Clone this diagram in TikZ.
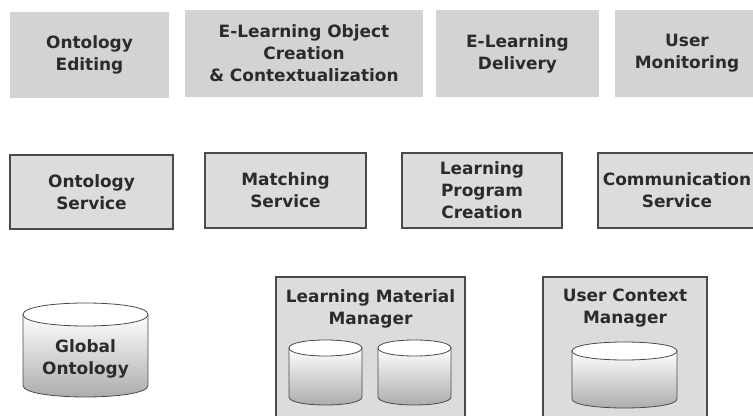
\documentclass[tikz,border=0pt]{standalone}
\usepackage{fontspec}
\setmainfont{DejaVu Sans}

\definecolor{topgray}{HTML}{D3D3D3}
\definecolor{boxgray}{HTML}{DCDCDC}
\definecolor{linegray}{HTML}{4A4A4A}
\definecolor{textgray}{HTML}{2B2B2B}
\definecolor{cylgray}{HTML}{A8A8A8}

\tikzset{
 lbl/.style={align=center, text=textgray, inner sep=0pt, font=\fontsize{12.7}{16.5}\selectfont\bfseries},
 topbox/.style={lbl, fill=topgray},
 svcbox/.style={lbl, fill=boxgray, draw=linegray, line width=0.9pt},
 mgrbox/.style={fill=boxgray, draw=linegray, line width=0.8pt, inner sep=0pt},
}

% 円柱 {左}{上}{右}{下}{楕円の縦半径}
\newcommand{\dbcyl}[5]{%
 \shade[top color=white, bottom color=cylgray, draw=linegray, line width=0.6pt]
  (#1,#2+#5) -- (#1,#4-#5) .. controls (#1,#4+#5/3) and (#3,#4+#5/3) .. (#3,#4-#5) -- (#3,#2+#5) -- cycle;
 \draw[fill=white, draw=linegray, line width=0.6pt]
  (#1,#2+#5) .. controls (#1,#2-#5/3) and (#3,#2-#5/3) .. (#3,#2+#5)
  .. controls (#3,#2+#5*7/3) and (#1,#2+#5*7/3) .. (#1,#2+#5) -- cycle;
}

\begin{document}
\begin{tikzpicture}[x=0.75pt, y=-0.75pt]
 \useasboundingbox (0,0) rectangle (753,416);

 % 上段
 \node[topbox, minimum width=119.25pt, minimum height=64.5pt] (onted) at (89.5,55) {Ontology\\Editing};
 \node[topbox, minimum width=178.5pt, minimum height=65.25pt] (elo) at (304,53.5) {E-Learning Object\\Creation\\\& Contextualization};
 \node[topbox, minimum width=122.25pt, minimum height=65.25pt] (eld) at (517.5,53.5) {E-Learning\\Delivery};
 \node[topbox, minimum width=108pt, minimum height=65.25pt] (usm) at (687,53.5) {User\\Monitoring};

 % 中段
 \node[svcbox, minimum width=122.25pt, minimum height=55.5pt] (ontsv) at (91.5,192) {Ontology\\Service};
 \node[svcbox, minimum width=120.75pt, minimum height=56.25pt] (match) at (285.5,190.5) {Matching\\Service};
 \node[svcbox, minimum width=120pt, minimum height=56.25pt] (lpc) at (482,190.5) {Learning\\Program\\Creation};
 \node[svcbox, minimum width=118.5pt, minimum height=56.25pt] (comm) at (677,190.5) {Communication\\Service};

 % 下段
 \dbcyl{23}{303}{148}{397}{11.5} % Global Ontology
 \node[lbl] (glob) at (85.5,359) {Global\\Ontology};

 \node[mgrbox, minimum width=141.75pt, minimum height=114.75pt] (lmm) at (370.5,353.5) {};
 \node[lbl] (lmmtitle) at (370.5,309) {Learning Material\\Manager};
 \dbcyl{289}{340}{362}{405}{8}
 \dbcyl{378}{340}{451}{405}{8}

 \node[mgrbox, minimum width=123pt, minimum height=114.75pt] (ucm) at (625,353.5) {};
 \node[lbl] (ucmtitle) at (625,308) {User Context\\Manager};
 \dbcyl{572}{342}{677}{408}{9}
\end{tikzpicture}
\end{document}
